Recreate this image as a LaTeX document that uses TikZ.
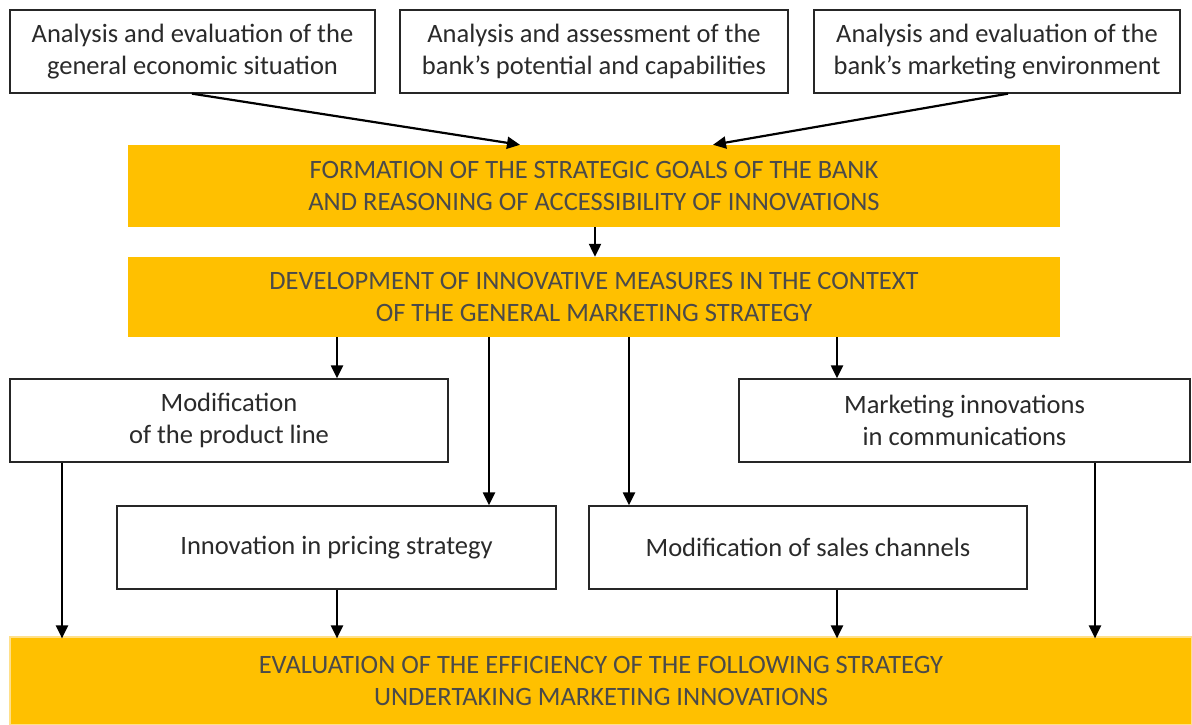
\documentclass[tikz,border=0pt]{standalone}
\usepackage{fontspec}
\setmainfont{Carlito}
\usetikzlibrary{arrows.meta}
\definecolor{gold}{HTML}{FFC000}
\definecolor{goldedge}{HTML}{FFE08A}
\definecolor{otext}{HTML}{4A4A4A}
\definecolor{wtext}{HTML}{2A2A2A}
\begin{document}
\begin{tikzpicture}[x=1pt,y=-1pt,
  wbox/.style={draw=black!85, line width=1.3pt, fill=white, inner sep=0pt, align=center,
    text=wtext, font=\fontsize{26.5}{31.5}\selectfont},
  obox/.style={fill=gold, inner sep=0pt, align=center, text=otext,
    font=\fontsize{26.5}{31.5}\selectfont},
  arr/.style={line width=2.2pt, -{Triangle[width=12pt,length=13pt]}, shorten >=0pt}
]
\useasboundingbox (0,0) rectangle (1192,724);
\fill[white] (0,0) rectangle (1192,724);
% top boxes
\node[wbox, minimum width=365pt, minimum height=83pt] (t1) at (192.5,51.5) {Analysis and evaluation of the\\general economic situation};
\node[wbox, minimum width=388pt, minimum height=83pt] (t2) at (594,51.5) {Analysis and assessment of the\\bank’s potential and capabilities};
\node[wbox, minimum width=366pt, minimum height=83pt] (t3) at (997,51.5) {Analysis and evaluation of the\\bank’s marketing environment};
% orange boxes
\node[obox, minimum width=932pt, minimum height=82pt] (o1) at (594,186) {FORMATION OF THE STRATEGIC GOALS OF THE BANK\\AND REASONING OF ACCESSIBILITY OF INNOVATIONS};
\node[obox, minimum width=932pt, minimum height=80pt] (o2) at (594,297) {DEVELOPMENT OF INNOVATIVE MEASURES IN THE CONTEXT\\OF THE GENERAL MARKETING STRATEGY};
% middle boxes
\node[wbox, minimum width=438pt, minimum height=83pt] (m1) at (229,420.5) {Modification\\of the product line};
\node[wbox, minimum width=451pt, minimum height=83pt] (m2) at (964.5,420.5) {Marketing innovations\\in communications};
\node[wbox, minimum width=439pt, minimum height=83pt] (p1) at (336.5,547.5) {Innovation in pricing strategy};
\node[wbox, minimum width=438pt, minimum height=83pt] (p2) at (808,547.5) {Modification of sales channels};
% bottom box
\node[obox, draw=goldedge, line width=1.2pt, minimum width=1182pt, minimum height=88pt] (b) at (601,681) {EVALUATION OF THE EFFICIENCY OF THE FOLLOWING STRATEGY\\UNDERTAKING MARKETING INNOVATIONS};
% helper x positions
\coordinate (x62) at (62,0);
\coordinate (x192) at (192,0);
\coordinate (x337) at (337,0);
\coordinate (x489) at (489,0);
\coordinate (x520) at (520,0);
\coordinate (x595) at (595,0);
\coordinate (x629) at (629,0);
\coordinate (x713) at (713,0);
\coordinate (x837) at (837,0);
\coordinate (x1008) at (1008,0);
\coordinate (x1095) at (1095,0);
% arrows
\draw[arr] (x192 |- t1.south) -- (x520 |- o1.north);
\draw[arr] (x1008 |- t3.south) -- (x713 |- o1.north);
\draw[arr] (x595 |- o1.south) -- (x595 |- o2.north);
\draw[arr] (x337 |- o2.south) -- (x337 |- m1.north);
\draw[arr] (x489 |- o2.south) -- (x489 |- p1.north);
\draw[arr] (x629 |- o2.south) -- (x629 |- p2.north);
\draw[arr] (x837 |- o2.south) -- (x837 |- m2.north);
\draw[arr] (x62 |- m1.south) -- ([yshift=-2pt]x62 |- b.north);
\draw[arr] (x337 |- p1.south) -- ([yshift=-2pt]x337 |- b.north);
\draw[arr] (x837 |- p2.south) -- ([yshift=-2pt]x837 |- b.north);
\draw[arr] (x1095 |- m2.south) -- ([yshift=-2pt]x1095 |- b.north);
\end{tikzpicture}
\end{document}
